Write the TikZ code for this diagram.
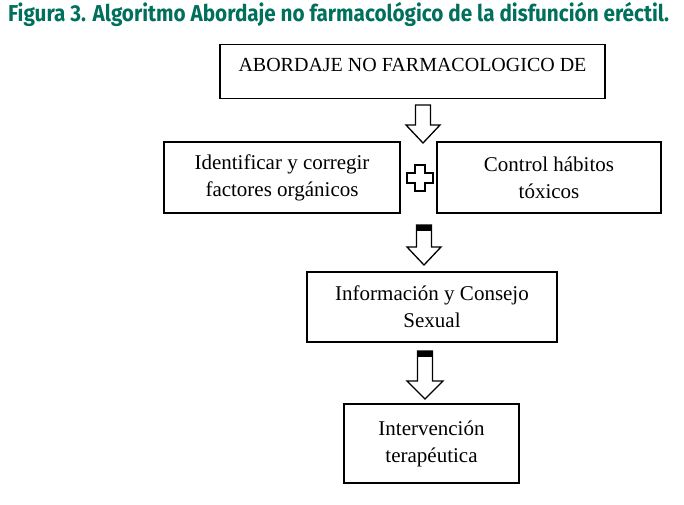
\documentclass[tikz,border=0pt]{standalone}
\usepackage{fontspec}
\setmainfont{Liberation Serif}
\newfontfamily\titrefont{Fira Sans}[FakeStretch=0.9]
\definecolor{vertfig}{RGB}{0,112,92}

\begin{document}
\begin{tikzpicture}[x=1pt,y=-1pt]
	\tikzstyle{boite}=[draw,line width=1.4pt,align=center,inner sep=0pt,font=\fontsize{21}{27}\selectfont]
	\tikzstyle{creuse}=[draw,line width=1.3pt,fill=white,line join=miter]
	\tikzstyle{titre}=[anchor=base west,inner sep=0pt,text=vertfig,font=\titrefont\bfseries\fontsize{23}{26}\selectfont]
	
	% fleche creuse : haut, fut, tete, demi-largeur de la tete
	\def\FlecheCreuse#1#2#3#4{\draw[creuse] (#1) ++(-7.5,0) -- ++(15,0) -- ++(0,#2) -- ++({#4-7.5},0) -- ++(-#4,#3) -- ++(-#4,-#3) -- ++({#4-7.5},0) -- cycle;}
	\def\Chapeau#1{\fill (#1) ++(-7.5,0) rectangle ++(15,6);}
	
	\useasboundingbox (0,0) rectangle (684,504);
	
	\node[titre] (T) at (8,21) {Figura 3. Algoritmo Abordaje no farmacológico de la disfunción eréctil.};
	
	\node[boite,minimum width=385,minimum height=54,text height=14pt,text depth=15pt,font=\fontsize{20}{27}\selectfont] (A) at (412.5,71.5) {ABORDAJE NO FARMACOLOGICO DE};
	\node[boite,minimum width=236,minimum height=71] (Ba) at (282,177.5) {Identificar y corregir\\factores orgánicos};
	\node[boite,minimum width=224,minimum height=71] (Bb) at (549,177.5) {Control hábitos\\tóxicos};
	\node[boite,minimum width=250,minimum height=70] (C) at (432,307) {Información y Consejo\\Sexual};
	\node[boite,minimum width=175,minimum height=79] (D) at (431.5,443.5) {Intervención\\terapéutica};
	
	\coordinate (F1) at (423,105);
	\coordinate (P) at (420,178);
	\coordinate (F2) at (424,225);
	\coordinate (F3) at (425,351);
	
	\FlecheCreuse{F1}{20}{18}{17}
	\draw[creuse] (P) ++(-5,-13) -- ++(10,0) -- ++(0,8) -- ++(8,0) -- ++(0,10) -- ++(-8,0) -- ++(0,8) -- ++(-10,0) -- ++(0,-8) -- ++(-8,0) -- ++(0,-10) -- ++(8,0) -- cycle;
	\FlecheCreuse{F2}{22}{18}{17}
	\Chapeau{F2}
	\FlecheCreuse{F3}{30}{18}{18}
	\Chapeau{F3}
\end{tikzpicture}
\end{document}
